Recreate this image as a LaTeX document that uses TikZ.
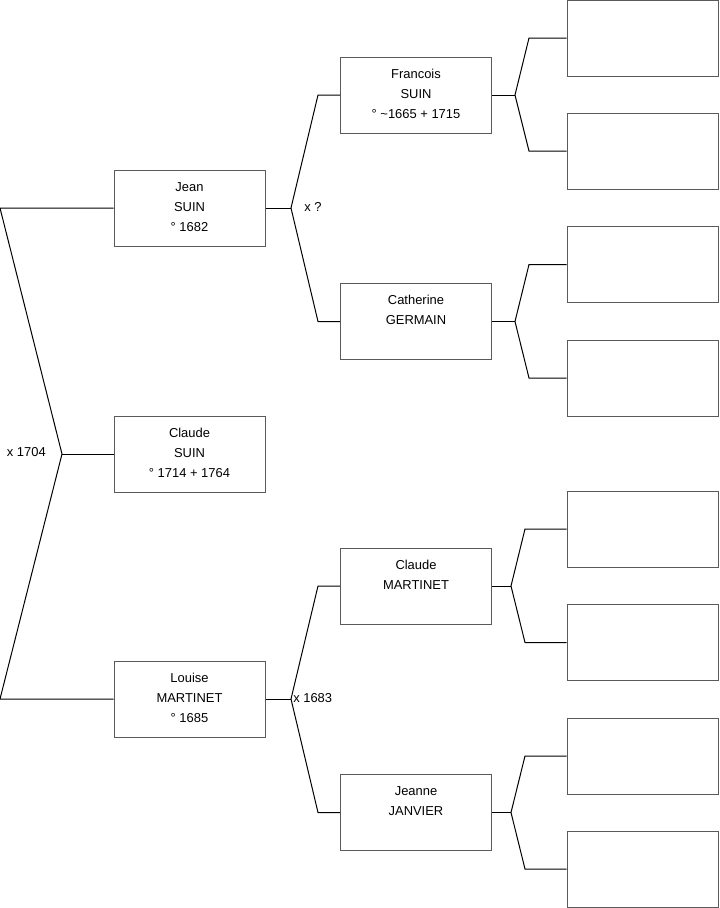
\documentclass[tikz,border=0pt]{standalone}
\usepackage{fontspec}
\setmainfont{Liberation Sans}
\begin{document}
\begin{tikzpicture}[x=0.75pt,y=-0.75pt,
  person/.style={draw=boxgray,line width=0.75pt,rectangle,inner sep=0pt,
    minimum width=113.25pt,minimum height=57pt},
  txt/.style={font=\fontsize{9.7}{15}\selectfont,align=center,inner sep=0pt,anchor=north},
  lbl/.style={font=\fontsize{9.7}{15}\selectfont,inner sep=0pt},
  link/.style={draw=black,line width=0.75pt}]
\definecolor{boxgray}{HTML}{5A5A5A}
\useasboundingbox (0,0) rectangle (719,908);
% generation 1
\node[person] (claude) at (189.5,454) {};
% generation 2
\node[person] (jean) at (189.5,208) {};
\node[person] (louise) at (189.5,699) {};
% generation 3
\node[person] (francois) at (416,95) {};
\node[person] (catherine) at (416,321.5) {};
\node[person] (claudem) at (416,586) {};
\node[person] (jeanne) at (416,812.5) {};
% generation 4
\node[person] (e1) at (642.5,38) {};
\node[person] (e2) at (642.5,151) {};
\node[person] (e3) at (642.5,264.5) {};
\node[person] (e4) at (642.5,378) {};
\node[person] (e5) at (642.5,529) {};
\node[person] (e6) at (642.5,642.5) {};
\node[person] (e7) at (642.5,756) {};
\node[person] (e8) at (642.5,869) {};
% texts
\node[txt] (tjean) at ([yshift=-5.6pt]jean.north) {\strut Jean\\SUIN\\° 1682};
\node[txt] (tclaude) at ([yshift=-5.6pt]claude.north) {\strut Claude\\SUIN\\° 1714 + 1764};
\node[txt] (tlouise) at ([yshift=-5.6pt]louise.north) {\strut Louise\\MARTINET\\° 1685};
\node[txt] (tfrancois) at ([yshift=-5.6pt]francois.north) {\strut Francois\\SUIN\\° \textasciitilde1665 + 1715};
\node[txt] (tcatherine) at ([yshift=-5.6pt]catherine.north) {\strut Catherine\\GERMAIN};
\node[txt] (tclaudem) at ([yshift=-5.6pt]claudem.north) {\strut Claude\\MARTINET};
\node[txt] (tjeanne) at ([yshift=-5.6pt]jeanne.north) {\strut Jeanne\\JANVIER};
% fork coordinates
\coordinate (l0) at (0,208);
\coordinate (l1) at (62,454);
\coordinate (l2) at (0,699);
\coordinate (fj) at (291,208);
\coordinate (fj1) at (318,95);
\coordinate (fj2) at (318,321.5);
\coordinate (fl) at (291,699);
\coordinate (fl1) at (318,586);
\coordinate (fl2) at (318,812.5);
\coordinate (ff) at (515,95);
\coordinate (ff1) at (529,38);
\coordinate (ff2) at (529,151);
\coordinate (fc) at (515,321.5);
\coordinate (fc1) at (529,264.5);
\coordinate (fc2) at (529,378);
\coordinate (fm) at (511,586);
\coordinate (fm1) at (525,529);
\coordinate (fm2) at (525,642.5);
\coordinate (fn) at (511,812.5);
\coordinate (fn1) at (525,756);
\coordinate (fn2) at (525,869);
% connectors
\draw[link] (jean.west) -- (l0) -- (l1) -- (l2) -- (louise.west);
\draw[link] (l1) -- (claude.west);
\draw[link] (jean.east) -- (fj);
\draw[link] (francois.west) -- (fj1) -- (fj) -- (fj2) -- (catherine.west);
\draw[link] (louise.east) -- (fl);
\draw[link] (claudem.west) -- (fl1) -- (fl) -- (fl2) -- (jeanne.west);
\draw[link] (francois.east) -- (ff);
\draw[link] (e1.west) -- (ff1) -- (ff) -- (ff2) -- (e2.west);
\draw[link] (catherine.east) -- (fc);
\draw[link] (e3.west) -- (fc1) -- (fc) -- (fc2) -- (e4.west);
\draw[link] (claudem.east) -- (fm);
\draw[link] (e5.west) -- (fm1) -- (fm) -- (fm2) -- (e6.west);
\draw[link] (jeanne.east) -- (fn);
\draw[link] (e7.west) -- (fn1) -- (fn) -- (fn2) -- (e8.west);
% marriage labels
\node[lbl,anchor=east] (m1) at (46,452) {x 1704};
\node[lbl,anchor=west] (m2) at (304,207) {x ?};
\node[lbl,anchor=west] (m3) at (293,698) {x 1683};
\end{tikzpicture}
\end{document}
